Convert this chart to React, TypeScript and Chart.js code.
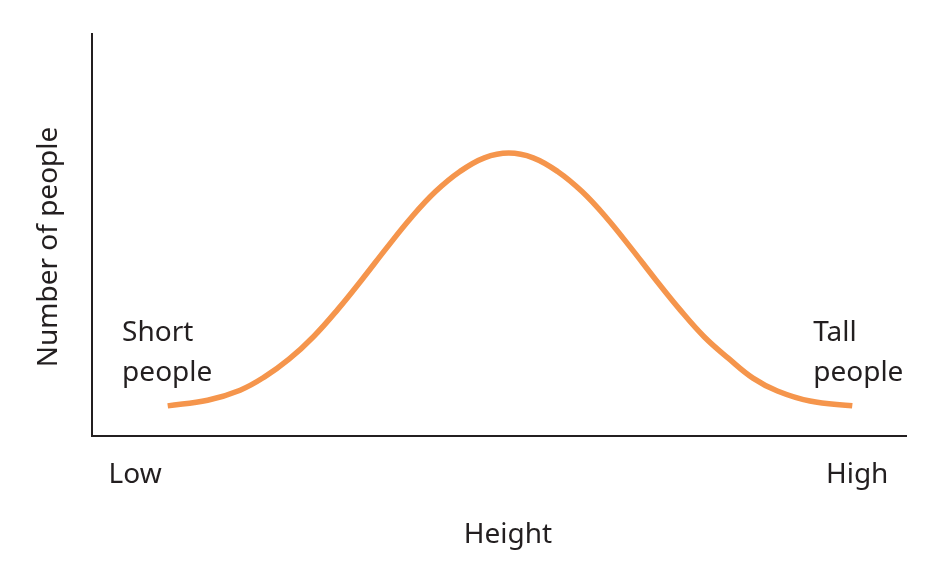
import React, { useEffect, useRef } from "react";
import { Chart, registerables } from "chart.js";

Chart.register(...registerables);

// Height (arbitrary units, Low -> High) and number of people (arbitrary units)
const heightValues = [9.3, 14.2, 18.2, 21.2, 24.2, 27.2, 30.2, 33.2, 36.2, 39.2, 42.2, 45.2, 48.2, 51.2, 54.2, 57.2, 60.2, 63.2, 66.2, 69.2, 72.2, 75.2, 78.2, 81.2, 84.2, 88.2, 93.4];
const peopleValues = [7.5, 8.9, 11.4, 14.7, 19.1, 24.7, 31.5, 39.0, 46.8, 54.3, 60.8, 65.8, 69.2, 70.4, 69.2, 65.8, 60.8, 54.3, 46.8, 39.0, 31.5, 24.7, 19.3, 14.4, 11.2, 8.7, 7.5];

const xTickLabels = ["Low", "High"];
const xTickPositions = [5.3, 94.0];
const xAxisTitle = "Height";
const yAxisTitle = "Number of people";
const annotations = [
  { lines: ["Short", "people"], x: 3.7, y: 23.6 },
  { lines: ["Tall", "people"], x: 88.6, y: 23.6 },
];

const FONT = '"Noto Sans", sans-serif';
const TEXT = "#231f20";

const labelsPlugin = {
  id: "labelsPlugin",
  afterDraw(chart: any) {
    const { ctx, scales, chartArea } = chart;
    const xs = scales.x;
    const ys = scales.y;
    ctx.save();
    ctx.fillStyle = TEXT;
    ctx.font = `28px ${FONT}`;
    ctx.textBaseline = "alphabetic";
    ctx.textAlign = "center";
    xTickLabels.forEach((t, i) => {
      ctx.fillText(t, xs.getPixelForValue(xTickPositions[i]), chartArea.bottom + 47);
    });
    ctx.fillText(xAxisTitle, (chartArea.left + chartArea.right) / 2 + 9, chartArea.bottom + 107);
    ctx.save();
    ctx.translate(chartArea.left - 35, (chartArea.top + chartArea.bottom) / 2 + 12);
    ctx.rotate(-Math.PI / 2);
    ctx.textAlign = "center";
    ctx.fillText(yAxisTitle, 0, 0);
    ctx.restore();
    ctx.textAlign = "left";
    annotations.forEach((a) => {
      const px = xs.getPixelForValue(a.x);
      const py = ys.getPixelForValue(a.y);
      a.lines.forEach((l, i) => ctx.fillText(l, px, py + i * 40));
    });
    ctx.restore();
  },
};

export default function App() {
  const ref = useRef<HTMLCanvasElement>(null);
  useEffect(() => {
    if (!ref.current) return;
    const chart = new Chart(ref.current, {
      type: "line",
      data: {
        datasets: [
          {
            data: heightValues.map((x, i) => ({ x, y: peopleValues[i] })),
            borderColor: "#f5954c",
            borderWidth: 5.5,
            pointRadius: 0,
            tension: 0.4,
            fill: false,
            borderCapStyle: "butt",
          },
        ],
      },
      options: {
        animation: false,
        responsive: true,
        maintainAspectRatio: false,
        layout: { padding: { left: 92, right: 46, top: 34, bottom: 134 } },
        plugins: { legend: { display: false }, tooltip: { enabled: false } },
        scales: {
          x: {
            type: "linear",
            min: 0,
            max: 100,
            grid: { display: false, drawTicks: false },
            ticks: { display: false },
            border: { display: true, color: "#231f20", width: 2 },
          },
          y: {
            type: "linear",
            min: 0,
            max: 100,
            grid: { display: false, drawTicks: false },
            ticks: { display: false },
            border: { display: true, color: "#231f20", width: 2 },
          },
        },
      },
      plugins: [labelsPlugin],
    } as any);
    return () => chart.destroy();
  }, []);
  return (
    <div style={{ position: "fixed", left: 0, top: 0, width: 952, height: 570, background: "#fff" }}>
      <canvas ref={ref} />
    </div>
  );
}
